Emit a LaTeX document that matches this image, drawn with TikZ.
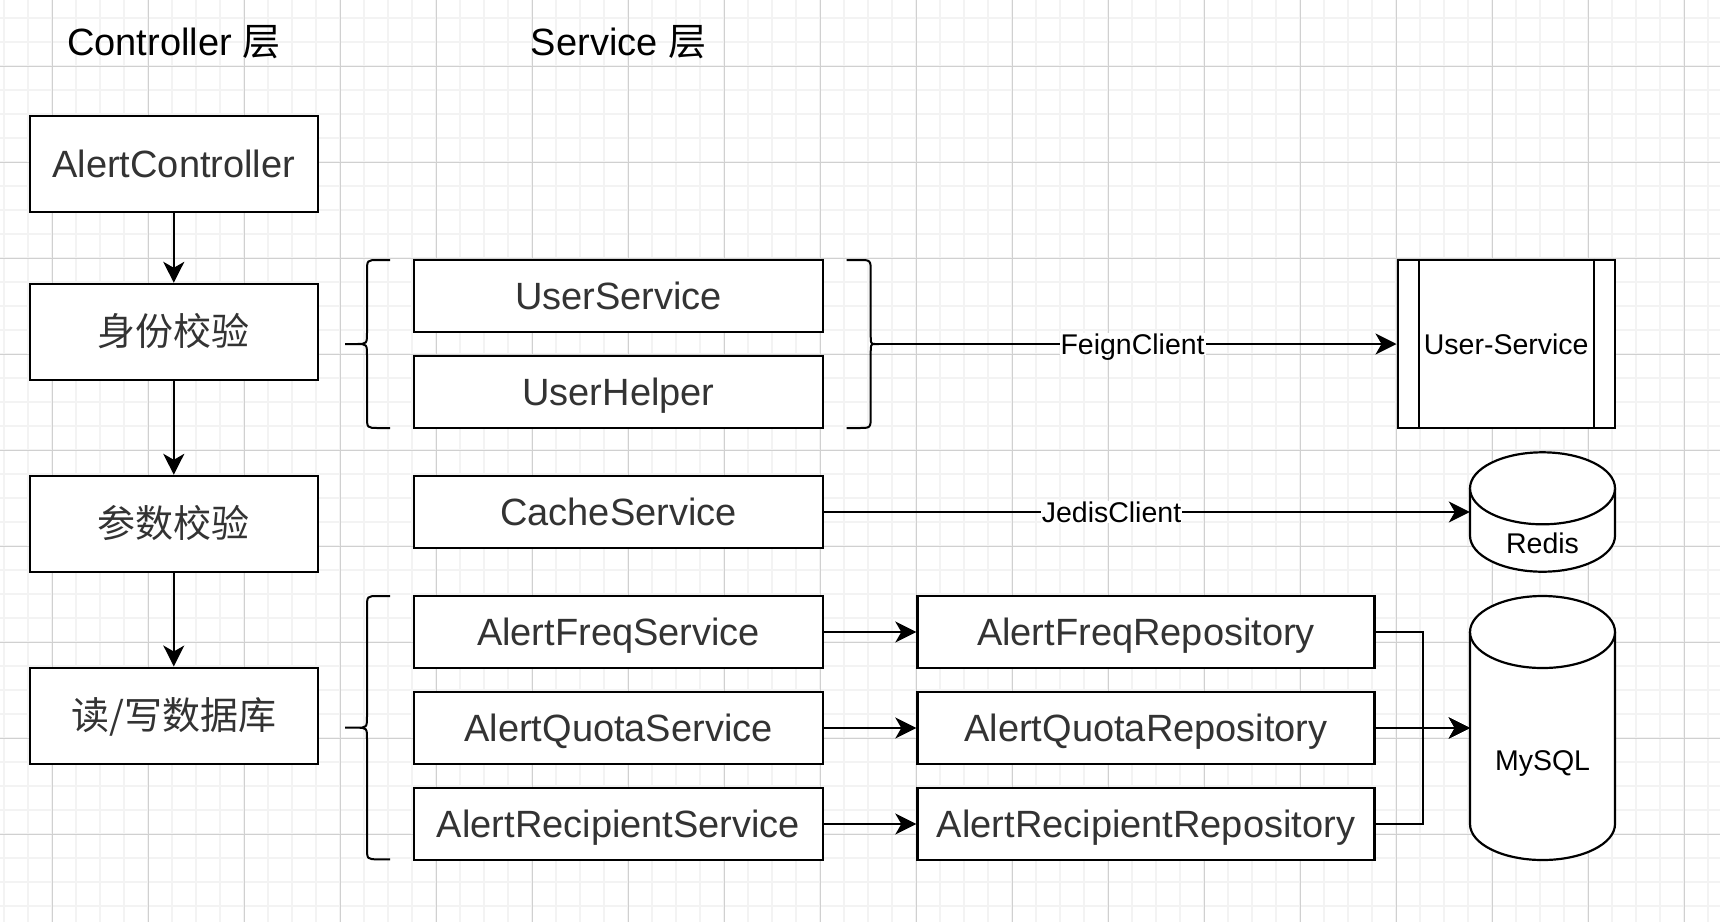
\documentclass[tikz,border=0pt]{standalone}
\usepackage{fontspec}
\setmainfont{Liberation Sans}
\newfontfamily\cjk{Noto Sans CJK SC}
\usepackage{xcolor}
\definecolor{textgray}{RGB}{51,51,51}
\definecolor{gridminor}{RGB}{243,243,243}
\definecolor{gridmajor}{RGB}{208,208,208}
\usepackage{tikz}
\usetikzlibrary{calc,arrows.meta}
\newcommand{\bigfont}{\fontsize{38}{44}\selectfont}
\newcommand{\smallfont}{\fontsize{28.5}{34}\selectfont}
% curly bracket: end x, spine x, tip x, top y, mid y, bottom y
\newcommand{\curly}[6]{%
  \draw[curlyline] (#1,#4) -- ({(#1+#2)/2},#4) .. controls (#2,#4) .. (#2,{#4+12})
    -- (#2,{#5-12}) .. controls (#2,#5) .. ({(#2+#3)/2},#5) -- (#3,#5)
    ({(#2+#3)/2},#5) .. controls (#2,#5) .. (#2,{#5+12})
    -- (#2,{#6-12}) .. controls (#2,#6) .. ({(#1+#2)/2},#6) -- (#1,#6);
}
% database cylinder: left, top, right, bottom
\newcommand{\dbcylinder}[4]{%
  \pgfmathsetmacro{\rx}{(#3-#1)/2}
  \filldraw[dbshape] (#1,{#2+36}) -- (#1,{#4-36})
    arc[start angle=180, end angle=360, x radius=\rx pt, y radius=36pt]
    -- (#3,{#2+36})
    arc[start angle=0, end angle=180, x radius=\rx pt, y radius=36pt] -- cycle;
  \draw[dbshape] (#1,{#2+36}) arc[start angle=180, end angle=360, x radius=\rx pt, y radius=36pt];
}
\begin{document}
\begin{tikzpicture}[x=1pt,y=-1pt,
    box/.style={draw,line width=2.4pt,fill=white,inner sep=0pt,text=textgray,font=\bigfont,text height=27pt,text depth=0pt},
    ctrlbox/.style={box,minimum width=288pt,minimum height=96pt},
    svcbox/.style={box,minimum width=409pt,minimum height=72pt},
    repobox/.style={box,minimum width=457pt,minimum height=72pt},
    extbox/.style={box,text=black,font=\smallfont,text height=20.5pt},
    dbspot/.style={inner sep=0pt},
    dbshape/.style={fill=white,line width=2.2pt},
    dblabel/.style={font=\smallfont,anchor=base},
    layertitle/.style={font=\bigfont,anchor=base},
    flow/.style={line width=2pt,-{Stealth[length=21pt,width=21pt,inset=6pt]}},
    link/.style={line width=2pt},
    edgelabel/.style={fill=white,inner sep=1pt,font=\smallfont,text depth=0pt},
    curlyline/.style={line width=2pt},
    minorline/.style={gridminor,line width=2pt},
    majorline/.style={gridmajor,line width=1pt}]
    % Canvas
    \useasboundingbox (0,0) rectangle (1720,922);
    \fill[white] (0,0) rectangle (1720,922);
    % Grid
    \foreach \gx in {0,...,71} \draw[minorline] ({4.3+24*\gx},0) -- ({4.3+24*\gx},922);
    \foreach \gy in {0,...,37} \draw[minorline] (0,{18.3+24*\gy}) -- (1720,{18.3+24*\gy});
    \foreach \gx in {0,...,17} \draw[majorline] ({52.3+96*\gx},0) -- ({52.3+96*\gx},922);
    \foreach \gy in {0,...,8} \draw[majorline] (0,{66.3+96*\gy}) -- (1720,{66.3+96*\gy});
    % Layer titles
    \node[layertitle] (ctrltitle) at (173.8,55) {Controller {\cjk 层}};
    \node[layertitle] (svctitle) at (618.5,55) {Service {\cjk 层}};
    % Controller layer
    \node[ctrlbox] (ctrl) at (173.8,164) {AlertController};
    \node[ctrlbox] (auth) at (173.8,332) {\cjk 身份校验};
    \node[ctrlbox] (param) at (173.8,524) {\cjk 参数校验};
    \node[ctrlbox] (db) at (173.8,715.7) {\cjk 读/写数据库};
    \draw[flow] (ctrl.south) -- (auth.north);
    \draw[flow] (auth.south) -- (param.north);
    \draw[flow] (param.south) -- (db.north);
    % Service layer
    \node[svcbox] (usersvc) at (618.5,296) {UserService};
    \node[svcbox] (userhelper) at (618.5,392) {UserHelper};
    \node[svcbox] (cachesvc) at (618.5,512) {CacheService};
    \node[svcbox] (freqsvc) at (618.5,632) {AlertFreqService};
    \node[svcbox] (quotasvc) at (618.5,728) {AlertQuotaService};
    \node[svcbox] (recipsvc) at (618.5,824) {AlertRecipientService};
    % Repositories
    \node[repobox] (freqrepo) at (1146,632) {AlertFreqRepository};
    \node[repobox] (quotarepo) at (1146,728) {AlertQuotaRepository};
    \node[repobox] (reciprepo) at (1146,824) {AlertRecipientRepository};
    \draw[flow] (freqsvc.east) -- (freqrepo.west);
    \draw[flow] (quotasvc.east) -- (quotarepo.west);
    \draw[flow] (recipsvc.east) -- (reciprepo.west);
    % Brackets
    \curly{390}{367}{345}{260}{344}{428}
    \curly{390}{367}{345}{596}{727.7}{859.3}
    \curly{846.7}{870.7}{879}{260}{344}{428}
    \coordinate (feigntip) at (879,344);
    % Remote service
    \node[extbox,minimum width=217pt,minimum height=168pt] (userservice) at (1506.2,344) {User-Service};
    \draw[link] ($(userservice.north west)+(22,0)$) -- ($(userservice.south west)+(22,0)$);
    \draw[link] ($(userservice.north east)+(-22,0)$) -- ($(userservice.south east)+(-22,0)$);
    \draw[flow] (feigntip) -- node[edgelabel,pos=0.49] (feignlabel) {FeignClient} (userservice.west);
    % Cache
    \node[dbspot,minimum width=145pt,minimum height=119.3pt] (redis) at (1542.5,512) {};
    \dbcylinder{1470}{452.3}{1615}{571.7}
    \node[dblabel] (redistext) at (1542.5,553.3) {Redis};
    \draw[flow] (cachesvc.east) -- node[edgelabel,pos=0.445] (jedislabel) {JedisClient} (redis.west);
    % Database
    \node[dbspot,minimum width=145pt,minimum height=264pt] (mysql) at (1542.5,728) {};
    \dbcylinder{1470}{596}{1615}{860}
    \node[dblabel] (mysqltext) at (1542.5,770) {MySQL};
    \draw[flow] (freqrepo.east) -- ++(47.4,0) |- (mysql.west);
    \draw[flow] (quotarepo.east) -- (mysql.west);
    \draw[flow] (reciprepo.east) -- ++(47.4,0) |- (mysql.west);
\end{tikzpicture}
\end{document}
